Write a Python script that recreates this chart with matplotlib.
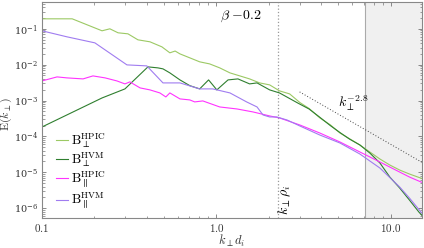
import numpy as np
import matplotlib
matplotlib.use('Agg')
import matplotlib.pyplot as plt
from matplotlib.ticker import LogLocator, FixedLocator, FixedFormatter, NullFormatter, LogFormatterMathtext

plt.rcParams['mathtext.fontset'] = 'cm'
plt.rcParams['font.family'] = 'serif'
plt.rcParams['font.serif'] = ['DejaVu Serif']

# perpendicular, hybrid PIC
k_perp_pic = [0.100, 0.149, 0.221, 0.245, 0.273, 0.311, 0.355, 0.416, 0.487, 0.541, 0.580,
              0.618, 0.704, 0.802, 0.915, 1.045, 1.196, 1.363, 1.55, 1.77, 2.02, 2.30, 2.63,
              3.01, 3.40, 3.92, 4.5, 5.11, 5.8, 6.65, 7.58, 8.66, 9.87, 11.25, 12.8, 15.4]
E_perp_pic = [0.190, 0.190, 0.088, 0.100, 0.0774, 0.0725, 0.0493, 0.0434, 0.0314, 0.0214, 0.0240,
              0.0200, 0.0155, 0.0120, 0.0105, 0.00814, 0.0059, 0.00486, 0.00401, 0.00310, 0.00273, 0.00186, 0.00153,
              0.00088, 0.00060, 0.000327, 0.00021, 0.000124, 8.6e-5, 5.75e-5, 3.67e-5, 2.34e-5, 1.59e-5, 1.15e-5, 8.91e-6, 6.46e-6]

# perpendicular, HVM
k_perp_hvm = [0.100, 0.221, 0.299, 0.405, 0.462, 0.494, 0.541, 0.618, 0.704, 0.802, 0.902,
              1.006, 1.166, 1.329, 1.55, 1.71, 2.02, 2.30, 2.92, 3.40, 3.92, 4.5, 5.11,
              5.8, 6.65, 7.58, 8.66, 9.87, 11.25, 12.8, 14.5, 15.4]
E_perp_hvm = [0.000183, 0.00118, 0.00211, 0.00868, 0.00814, 0.00764, 0.0059, 0.00376, 0.00260, 0.00211, 0.00376,
              0.00198, 0.00376, 0.00401, 0.00291, 0.00310, 0.00198, 0.00163, 0.000858, 0.00058, 0.000340, 0.000200, 0.000128,
              8.4e-5, 5.75e-5, 3.44e-5, 1.81e-5, 7.35e-6, 3.62e-6, 1.67e-6, 7.73e-7, 5.61e-7]

# parallel, hybrid PIC
k_par_pic = [0.100, 0.122, 0.139, 0.172, 0.196, 0.230, 0.269, 0.299, 0.319, 0.365, 0.416,
             0.474, 0.513, 0.541, 0.618, 0.704, 0.751, 0.836, 1.045, 1.312, 1.62, 2.02, 2.30,
             3.01, 3.92, 5.11, 6.65, 8.66, 11.25, 12.8, 15.4]
E_par_pic = [0.00352, 0.00456, 0.00428, 0.00401, 0.00486, 0.00428, 0.00352, 0.00291, 0.00331, 0.00225, 0.00198,
             0.00163, 0.00126, 0.00163, 0.00111, 0.00104, 0.000915, 0.000975, 0.000662, 0.000582, 0.000481, 0.000372, 0.000327,
             0.000208, 0.000124, 6.98e-5, 3.67e-5, 1.93e-5, 1.01e-5, 7.35e-6, 4.99e-6]

# parallel, HVM
k_par_hvm = [0.100, 0.139, 0.201, 0.307, 0.399, 0.494, 0.618, 0.802, 0.953, 1.196, 1.49,
             1.71, 1.85, 2.02, 2.22, 2.54, 3.01, 3.92, 5.11, 6.65, 8.66, 11.25, 12.8, 15.4]
E_par_hvm = [0.088, 0.0598, 0.0406, 0.00986, 0.00925, 0.00310, 0.00310, 0.00211, 0.00211, 0.00163, 0.000915,
             0.000662, 0.000396, 0.000348, 0.000348, 0.000287, 0.000195, 0.000109, 6.54e-5, 3.22e-5, 1.31e-5, 3.86e-6, 1.90e-6, 6.37e-7]

y_major = [1e-6, 1e-5, 1e-4, 1e-3, 1e-2, 1e-1]

# reference slope
k_slope = np.array([3.0, 15.4])
E_slope = 1.74e-3 * (k_slope / 3.0) ** -2.8

fig = plt.figure(figsize=(4.24, 2.48), dpi=100)
ax = fig.add_axes([0.099, 0.121, 0.896, 0.871])

ax.axvspan(7.1, 20, color='#f0f0f0', lw=0)
ax.axvline(7.1, color='#aaaaaa', lw=0.8)
ax.axvline(2.25, color='#999999', lw=0.9, ls=':')

ax.plot(k_perp_pic, E_perp_pic, color='#9cc964', lw=0.8, label=r'$\mathrm{B}_\perp^{\mathrm{HPIC}}$')
ax.plot(k_perp_hvm, E_perp_hvm, color='#2f7f2f', lw=0.8, label=r'$\mathrm{B}_\perp^{\mathrm{HVM}}$')
ax.plot(k_par_pic, E_par_pic, color='#ff33ff', lw=0.8, label=r'$\mathrm{B}_\parallel^{\mathrm{HPIC}}$')
ax.plot(k_par_hvm, E_par_hvm, color='#a07cf0', lw=0.8, label=r'$\mathrm{B}_\parallel^{\mathrm{HVM}}$')
ax.plot(k_slope, E_slope, color='#444444', lw=0.7, ls=(0, (1, 2)))

ax.set_xscale('log')
ax.set_yscale('log')
ax.set_xlim(0.1, 15.07)
ax.set_ylim(5.3e-7, 0.56)

ax.xaxis.set_major_locator(FixedLocator([0.1, 1.0, 10.0]))
ax.xaxis.set_major_formatter(FixedFormatter([r'$0.1$', r'$1.0$', r'$10.0$']))
ax.xaxis.set_minor_locator(LogLocator(base=10, subs=np.arange(2, 10)))
ax.xaxis.set_minor_formatter(NullFormatter())
ax.yaxis.set_major_locator(FixedLocator(y_major))
ax.yaxis.set_major_formatter(LogFormatterMathtext())
ax.yaxis.set_minor_locator(LogLocator(base=10, subs=np.arange(2, 10), numticks=12))
ax.yaxis.set_minor_formatter(NullFormatter())

ax.tick_params(which='both', direction='in', top=True, right=True, colors='#777777',
               labelcolor='#333333', labelsize=8)
ax.tick_params(axis='y', labelsize=7)
ax.tick_params(which='major', length=3, width=0.6, pad=3)
ax.tick_params(which='minor', length=1.8, width=0.5)
for s in ax.spines.values():
    s.set_color('#888888')
    s.set_linewidth(0.8)

ax.set_xlabel(r'$k_\perp d_i$', fontsize=9, labelpad=-1, color='#333333')
ax.set_ylabel(r'$\mathrm{E}(k_\perp)$', fontsize=8.5, color='#333333')
ax.yaxis.set_label_coords(-0.073, 0.48)

ax.text(0.579, 0.935, r'$\beta\ {-0.2}$', transform=ax.transAxes, ha='right', va='center', fontsize=10)
ax.text(0.779, 0.532, r'$k_\perp^{-2.8}$', transform=ax.transAxes, ha='left', va='center', fontsize=10)
ax.text(0.64, 0.085, r'$k_\perp\rho_i$', transform=ax.transAxes, ha='center', va='center',
        rotation=90, fontsize=10)

ax.legend(loc='lower left', bbox_to_anchor=(0.02, 0.0), frameon=False, fontsize=9.5,
          handlelength=0.9, handletextpad=0.2, labelspacing=0.05, borderaxespad=0.3,
          borderpad=0.2)

fig.savefig('out.png', dpi=100)
